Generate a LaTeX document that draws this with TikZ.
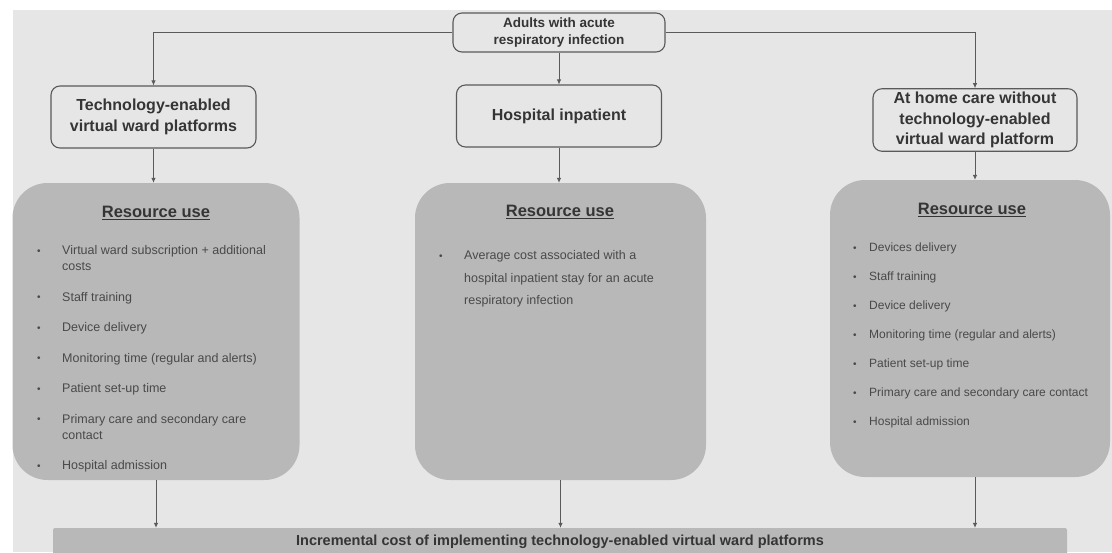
\documentclass[tikz,border=0pt]{standalone}
\usepackage{fontspec}
\setmainfont{Liberation Sans}
\usetikzlibrary{arrows.meta,positioning}
\definecolor{bggray}{HTML}{E6E6E6}
\definecolor{boxgray}{HTML}{B8B8B8}
\definecolor{linegray}{HTML}{5A5A5A}
\definecolor{txtgray}{HTML}{353535}
\newcommand{\resbullet}[1][24pt]{\makebox[#1][l]{\raisebox{0.5pt}{\fontsize{10}{10}\selectfont\textbullet}}}

\begin{document}
\begin{tikzpicture}[x=1pt,y=-1pt,
	armbox/.style={draw=linegray, line width=1.1pt, fill=bggray, rounded corners=9pt,
		minimum width=205pt, minimum height=62pt, align=center, text=txtgray,
		font=\bfseries\fontsize{16}{20.5}\selectfont},
	resbox/.style={fill=boxgray, rounded corners=35pt},
	restitle/.style={text=txtgray, font=\bfseries\fontsize{16.5}{20}\selectfont},
	reslist/.style={inner sep=0pt, anchor=base west, text=txtgray!90},
	arr/.style={draw=linegray, line width=0.8pt, -{Latex[length=5pt,width=4.5pt]}}]
	\useasboundingbox (0,0) rectangle (1112,552);
	\fill[bggray] (12.5,10) rectangle (1112,552);   % grey page
	% population and the three arms
	\node[armbox, minimum width=212pt, minimum height=39pt,
		font=\bfseries\fontsize{13.5}{17}\selectfont] (adults) at (559,32.5)
		{Adults with acute\\respiratory infection};
	\node[armbox] (tech) at (153.5,117) {Technology-enabled\\virtual ward platforms};
	\node[armbox] (hosp) at (559,116) {Hospital inpatient};
	\node[armbox, minimum width=204pt] (home) at (975,120)
		{At home care without\\technology-enabled\\virtual ward platform};
	% resource use boxes
	\node[resbox, minimum width=287pt, minimum height=297pt] (resA) at (156,331.5) {};
	\node[resbox, minimum width=291pt, minimum height=297pt] (resB) at (560.5,331.5) {};
	\node[resbox, minimum width=280pt, minimum height=297pt] (resC) at (970,328.5) {};
	\node[restitle] (titA) at (156,213) {\underline{Resource use}};
	\node[restitle] (titB) at (560,212) {\underline{Resource use}};
	\node[restitle] (titC) at (972,210) {\underline{Resource use}};
	\node[reslist, font=\fontsize{12.5}{16}\selectfont] (listA) at (37,254.5)
		{\begin{tabular}[t]{@{}l@{}l@{}}
		\resbullet[25pt] & Virtual ward subscription + additional\\
		& costs\\[14.5pt]
		\resbullet[25pt] & Staff training\\[14.5pt]
		\resbullet[25pt] & Device delivery\\[14.5pt]
		\resbullet[25pt] & Monitoring time (regular and alerts)\\[14.5pt]
		\resbullet[25pt] & Patient set-up time\\[14.5pt]
		\resbullet[25pt] & Primary care and secondary care\\
		& contact\\[14.5pt]
		\resbullet[25pt] & Hospital admission
		\end{tabular}};
	\node[reslist, font=\fontsize{12.5}{22.5}\selectfont] (listB) at (439,259.5)
		{\begin{tabular}[t]{@{}l@{}l@{}}
		\resbullet[25pt] & Average cost associated with a\\
		& hospital inpatient stay for an acute\\
		& respiratory infection
		\end{tabular}};
	\node[reslist, font=\fontsize{12}{29}\selectfont] (listC) at (853,251.5)
		{\begin{tabular}[t]{@{}l@{}l@{}}
		\resbullet[16pt] & Devices delivery\\
		\resbullet[16pt] & Staff training\\
		\resbullet[16pt] & Device delivery\\
		\resbullet[16pt] & Monitoring time (regular and alerts)\\
		\resbullet[16pt] & Patient set-up time\\
		\resbullet[16pt] & Primary care and secondary care contact\\
		\resbullet[16pt] & Hospital admission
		\end{tabular}};
	% outcome bar, cut by the page edge
	\node[fill=boxgray, rounded corners=2pt, minimum width=1014pt, minimum height=28pt,
		text=txtgray, font=\bfseries\fontsize{14.5}{17}\selectfont] (bar) at (560,542)
		{Incremental cost of implementing technology-enabled virtual ward platforms};
	% connectors
	\draw[arr] (adults.west) -| (tech.north);
	\draw[arr] (adults.south) -- (hosp.north);
	\draw[arr] (adults.east) -| (home.north);
	\draw[arr] (tech.south) -- (tech.south |- resA.north);
	\draw[arr] (hosp.south) -- (hosp.south |- resB.north);
	\draw[arr] (home.south) -- (home.south |- resC.north);
	\draw[arr] (resA.south) -- (resA.south |- bar.north);
	\draw[arr] (resB.south) -- (resB.south |- bar.north);
	\draw[arr] (home.south |- resC.south) -- (home.south |- bar.north);
\end{tikzpicture}
\end{document}
